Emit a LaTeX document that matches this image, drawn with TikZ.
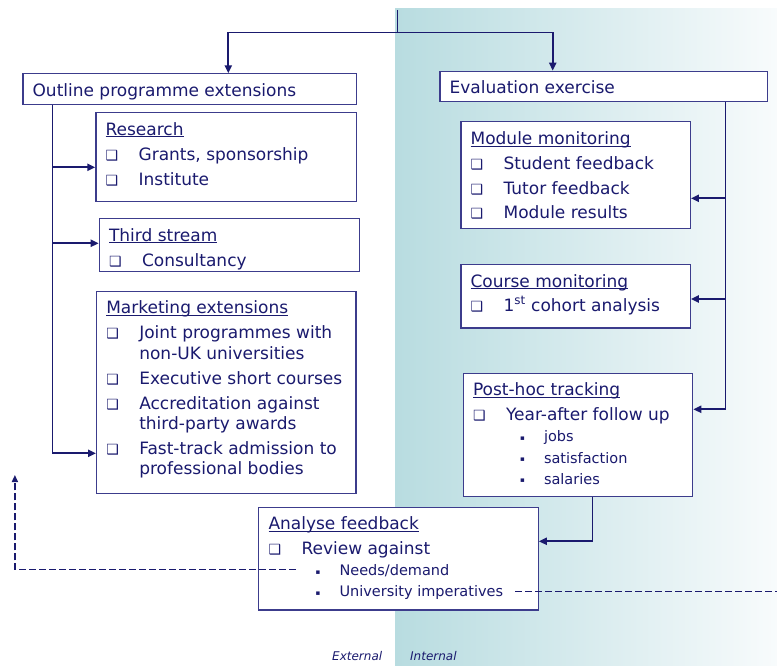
\documentclass[tikz,border=0pt]{standalone}
\usepackage{fontspec}
\setmainfont{DejaVu Sans}
\usetikzlibrary{arrows.meta,positioning,calc}
\definecolor{navy}{RGB}{26,26,110}
\definecolor{boxline}{RGB}{60,60,140}
\definecolor{tealA}{RGB}{184,220,224}
\definecolor{tealB}{RGB}{248,251,252}

\newcommand{\sqb}{{\fontsize{14}{14}\selectfont ❑}}
\newcommand{\smb}{\raisebox{1.5pt}{\fontsize{7}{7}\selectfont ▪}}
\newcommand{\boxhead}[1]{\rule{0pt}{22.5pt}\setbox0\hbox{#1}\rlap{\rule[-2pt]{\wd0}{0.7pt}}\box0}
\newcommand{\itm}[1]{\makebox[33pt][l]{\sqb}#1}
\newcommand{\contline}[1]{\hspace*{33pt}#1}
\newcommand{\subitm}[1]{\hspace*{47pt}\makebox[24pt][l]{\smb}{\fontsize{14.5}{25}\selectfont #1}}
\newcommand{\boxtext}[3]{\parbox[t][#1][t]{#2}{\fontsize{17}{25}\selectfont #3}}

\begin{document}
\begin{tikzpicture}[x=1pt,y=-1pt,
  box/.style={draw=boxline,fill=white,line width=1.2pt,anchor=north west,inner xsep=9.7pt,inner ysep=0pt,text=navy},
  trunk/.style={draw=navy,line width=1.4pt},
  stub/.style={draw=navy,line width=2.2pt,-{Triangle[length=8pt,width=7pt]}},
  dashlink/.style={draw=navy,line width=1.5pt,dash pattern=on 7pt off 3pt},
  lbl/.style={text=navy,font=\fontsize{12}{12}\selectfont\itshape,anchor=base west,inner sep=0pt}]
  % background
  \fill[white] (0,0) rectangle (777,666);
  \shade[left color=tealA,right color=tealB] (395,9) rectangle (777,666);
  \useasboundingbox (0,0) rectangle (777,666);

  % boxes
  \node[box] (outline) at (22.3,73.3) {\boxtext{30.4pt}{314pt}{\rule{0pt}{22.5pt}Outline programme extensions}};
  \node[box] (evaluation) at (439.3,70.7) {\boxtext{30pt}{308pt}{\rule{0pt}{22.5pt}Evaluation exercise}};
  \node[box] (research) at (95.3,112) {\boxtext{88.7pt}{241pt}{\boxhead{Research}\\
      \itm{Grants, sponsorship}\\
      \itm{Institute}}};
  \node[box] (third) at (98.7,218) {\boxtext{52.7pt}{241pt}{\boxhead{Third stream}\\
      \itm{Consultancy}}};
  \node[box] (marketing) at (96,290.7) {\boxtext{202pt}{240pt}{\boxhead{Marketing extensions}\\
      \itm{Joint programmes with}\\[-4.5pt]
      \contline{non-UK universities}\\
      \itm{Executive short courses}\\
      \itm{Accreditation against}\\[-5pt]
      \contline{third-party awards}\\
      \itm{Fast-track admission to}\\[-4.5pt]
      \contline{professional bodies}}};
  \node[box] (module) at (460.3,121.3) {\boxtext{106.7pt}{210pt}{\boxhead{Module monitoring}\\
      \itm{Student feedback}\\
      \itm{Tutor feedback}\\[-1pt]
      \itm{Module results}}};
  \node[box] (course) at (460.3,264) {\boxtext{63.3pt}{210pt}{\boxhead{Course monitoring}\\[-1pt]
      \itm{1\textsuperscript{st} cohort analysis}}};
  \node[box] (posthoc) at (462.7,372.7) {\boxtext{123pt}{210pt}{\boxhead{Post-hoc tracking}\\[-0.4pt]
      \itm{Year-after follow up}\\[-3.6pt]
      \subitm{jobs}\\[-3.4pt]
      \subitm{satisfaction}\\[-4pt]
      \subitm{salaries}}};
  \node[box] (analyse) at (258.2,506.7) {\boxtext{102.6pt}{260pt}{\boxhead{Analyse feedback}\\[-0.7pt]
      \itm{Review against}\\[-3.3pt]
      \subitm{Needs/demand}\\[-4.3pt]
      \subitm{University imperatives}}};

  % top split
  \coordinate (split) at (397.5,10);
  \coordinate (topjoin) at (397.5,32.3);
  \coordinate (tl) at (228.3,32.3);
  \coordinate (tr) at (552.7,32.3);
  \draw[trunk] (split) -- (topjoin);
  \draw[trunk] (tl) -- (tr);
  \draw[stub] (tl) -- (tl |- outline.north);
  \draw[stub] (tr) -- (tr |- evaluation.north);

  % external side
  \coordinate (lt) at ([xshift=30pt]outline.south west);
  \coordinate (lb) at (lt |- 0,453.3);
  \draw[trunk] (lt) -- (lb);
  \draw[stub] (lt |- 0,167.3) -- (research.west |- 0,167.3);
  \draw[stub] (lt |- 0,243.3) -- (third.west |- 0,243.3);
  \draw[stub] (lb) -- (marketing.west |- lb);

  % internal side
  \coordinate (rt) at ([xshift=-42.4pt]evaluation.south east);
  \coordinate (rb) at (rt |- 0,409.3);
  \draw[trunk] (rt) -- (rb);
  \draw[stub] (rt |- 0,198.3) -- (module.east |- 0,198.3);
  \draw[stub] (rt |- 0,299) -- (course.east |- 0,299);
  \draw[stub] (rb) -- (posthoc.east |- rb);

  % feedback
  \coordinate (pa) at ([xshift=14.5pt]posthoc.south);
  \coordinate (pb) at (pa |- 0,541.3);
  \draw[trunk] (pa) -- (pb);
  \draw[stub] (pb) -- (analyse.east |- pb);

  \coordinate (nd) at (296,569.3);
  \coordinate (fb) at (14.9,569.3);
  \coordinate (fbt) at (14.9,475);
  \draw[dashlink,-{Triangle[length=7pt,width=6pt]}] (nd) -- (fb) -- (fbt);
  \coordinate (ui) at (515,591.7);
  \coordinate (ue) at (777,591.7);
  \draw[dashlink] (ui) -- (ue);

  \node[lbl] (external) at (332,660) {External};
  \node[lbl] (internal) at (410,660) {Internal};
\end{tikzpicture}
\end{document}
